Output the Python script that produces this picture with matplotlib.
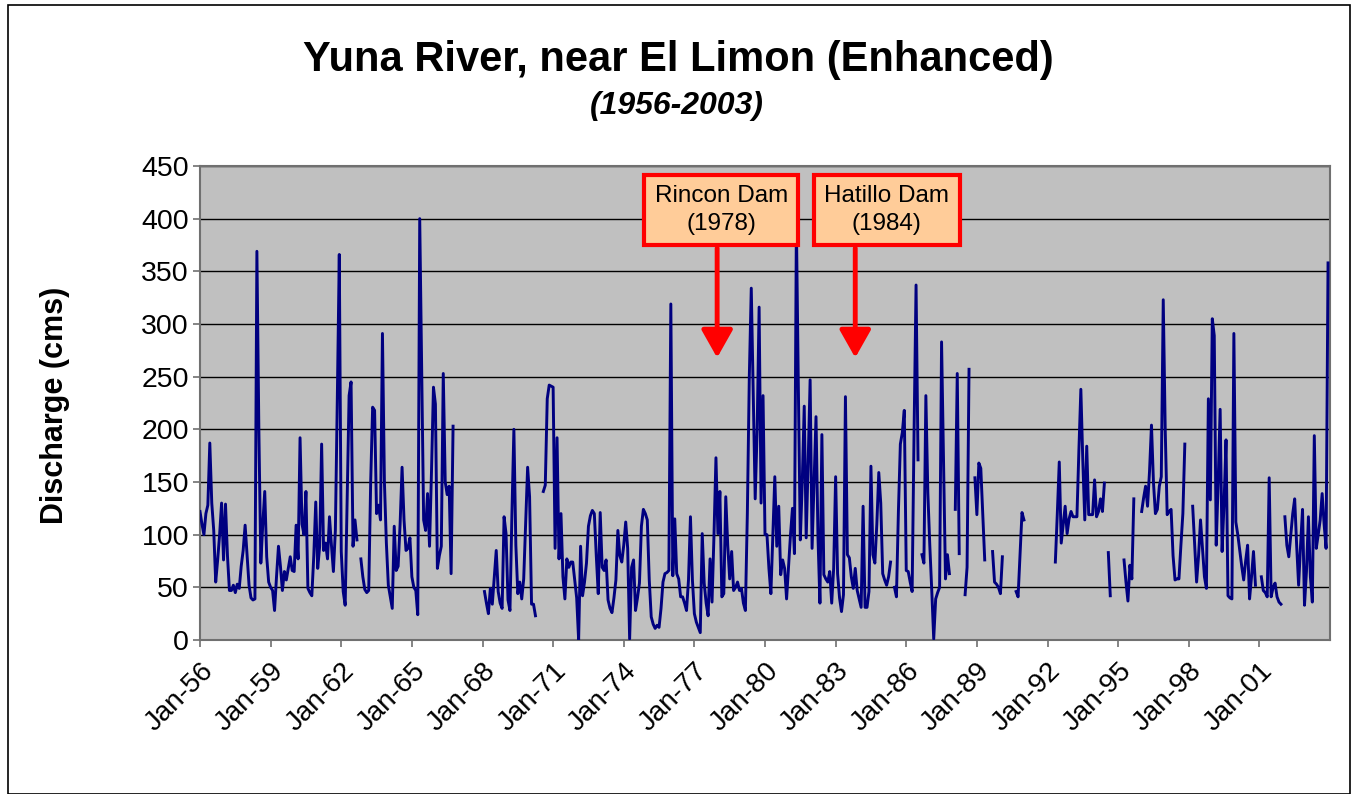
import numpy as np
import matplotlib.pyplot as plt
from matplotlib.patches import Rectangle

plt.rcParams['font.family'] = ['Liberation Sans', 'DejaVu Sans']

nan = np.nan

# monthly mean discharge (cms), Jan..Dec per row, nan = no record
flow_1950s = [
    122, 110, 100, 120, 128, 187, 130, 104, 55, 76, 100, 130,   # 1956
    76, 129, 80, 47, 47, 52, 45, 53, 49, 70, 85, 109,           # 1957
    80, 52, 40, 38, 39, 369, 200, 73, 110, 141, 79, 55,         # 1958
    50, 47, 28, 60, 89, 70, 47, 65, 57, 68, 79, 66,             # 1959
]
flow_1960s = [
    65, 109, 77, 192, 110, 100, 141, 49, 45, 42, 80, 131,       # 1960
    68, 89, 186, 85, 92, 77, 117, 90, 65, 104, 230, 366,        # 1961
    84, 46, 33, 130, 232, 245, 89, 114, 95, nan, 77, 60,        # 1962
    48, 45, 47, 150, 221, 218, 120, 128, 114, 291, 150, 92,     # 1963
    52, 41, 30, 108, 66, 70, 110, 164, 114, 85, 87, 97,         # 1964
    60, 50, 47, 24, 400, 260, 114, 104, 139, 89, 160, 240,      # 1965
    224, 68, 80, 89, 253, 150, 138, 146, 63, 203, nan, nan,     # 1966
    nan, nan, nan, nan, nan, nan, nan, nan, nan, nan, nan, nan, # 1967
    nan, 46, 35, 25, 49, 34, 60, 85, 46, 35, 30, 117,           # 1968
    101, 38, 28, 120, 200, 90, 44, 55, 39, 58, 110, 164,        # 1969
]
flow_1970s = [
    136, 34, 34, 23, nan, nan, nan, 141, 147, 229, 242, 241,    # 1970
    240, 87, 192, 77, 120, 60, 39, 77, 69, 74, 74, 57,          # 1971
    40, 0, 89, 42, 55, 73, 108, 118, 123, 120, 80, 44,          # 1972
    121, 69, 66, 76, 38, 30, 26, 40, 57, 104, 80, 74,           # 1973
    90, 112, 87, 1, 69, 76, 28, 40, 54, 108, 124, 120,          # 1974
    114, 57, 22, 15, 11, 14, 12, 30, 55, 63, 64, 66,            # 1975
    319, 61, 115, 63, 58, 41, 41, 35, 28, 57, 117, 57,          # 1976
    25, 17, 12, 7, 101, 54, 35, 23, 77, 36, 100, 173,           # 1977
    101, 141, 41, 44, 136, 90, 58, 84, 47, 50, 55, 47,          # 1978
    49, 35, 28, 120, 250, 334, 232, 134, 200, 316, 130, 232,    # 1979
]
flow_1980s = [
    100, 100, 68, 44, 100, 155, 89, 127, 62, 76, 68, 39,        # 1980
    70, 100, 125, 82, 395, 240, 95, 150, 222, 97, 169, 247,     # 1981
    87, 150, 212, 98, 35, 195, 62, 58, 55, 65, 35, 68,          # 1982
    155, 63, 40, 27, 43, 231, 81, 78, 60, 49, 68, 47,           # 1983
    39, 31, 127, 31, 31, 46, 165, 81, 73, 110, 159, 130,        # 1984
    63, 57, 52, 60, 74, nan, 50, 41, 122, 186, 197, 218,        # 1985
    66, 65, 55, 46, 200, 337, 171, nan, 81, 73, 232, 140,       # 1986
    90, 47, 1, 39, 45, 50, 283, 170, 58, 81, 63, nan,           # 1987
    nan, 124, 253, 82, nan, nan, 43, 69, 257, nan, nan, 154,    # 1988
    119, 168, 163, 120, 76, nan, nan, nan, 84, 55, 53, 50,      # 1989
]
flow_1990s = [
    44, 79, nan, nan, nan, nan, nan, nan, 46, 41, 80, 121,      # 1990
    114, nan, nan, nan, nan, nan, nan, nan, nan, nan, nan, nan, # 1991
    nan, nan, nan, nan, 74, 120, 169, 92, 110, 127, 101, 115,   # 1992
    122, 117, 117, 117, 180, 238, 170, 114, 184, 119, 119, 119, # 1993
    152, 117, 122, 134, 122, 149, nan, 83, 42, nan, nan, nan,   # 1994
    nan, nan, nan, 76, 55, 37, 71, 58, 134, nan, nan, nan,      # 1995
    122, 135, 146, 127, 160, 204, 150, 120, 124, 146, 155, 323, # 1996
    200, 119, 122, 124, 80, 57, 58, 58, 90, 120, 186, nan,      # 1997
    nan, nan, 127, 90, 55, 80, 114, 87, 60, 49, 229, 133,       # 1998
    305, 289, 90, 150, 219, 84, 130, 190, 42, 40, 39, 291,      # 1999
]
flow_2000s = [
    112, 100, 85, 70, 57, 75, 90, 39, 60, 84, 52, nan,          # 2000
    nan, 60, 47, 45, 41, 154, 41, 50, 54, 41, 36, 34,           # 2001
    nan, 117, 90, 79, 100, 120, 134, 90, 52, 90, 124, 33,       # 2002
    65, 117, 60, 36, 194, 87, 100, 114, 139, 110, 87, 358,      # 2003
]

flow = np.array(flow_1950s + flow_1960s + flow_1970s + flow_1980s
                + flow_1990s + flow_2000s, dtype=float)
months = np.arange(len(flow))   # months since Jan-1956

tick_years = list(range(1956, 2002, 3))
tick_labels = ['Jan-%02d' % (y % 100) for y in tick_years]
tick_months = [(y - 1956) * 12 for y in tick_years]

# dam notes: (label, month index of arrow, box centre month)
dams = [('Rincon Dam\n(1978)', 263.6, 265.7),
        ('Hatillo Dam\n(1984)', 334.0, 350.1)]

W, H = 1357, 794
fig = plt.figure(figsize=(W / 100, H / 100), dpi=100)
fig.patches.append(Rectangle((8 / W, 0), (1350 - 8) / W, (H - 5) / H,
                             transform=fig.transFigure, fill=False,
                             edgecolor='black', lw=1.2))

ax = fig.add_axes([200 / W, 1 - 640 / H, 1130 / W, 474 / H])
ax.set_facecolor('#C0C0C0')
ax.plot(months, flow, color='#000080', lw=2.1, zorder=3)

ax.set_xlim(0, 576)
ax.set_ylim(0, 450)
ax.set_yticks(range(0, 451, 50))
ax.yaxis.grid(True, color='black', lw=1.0)
ax.set_axisbelow(True)
for s in ax.spines.values():
    s.set_color('#707070')
    s.set_linewidth(1.5)

ax.set_xticks(tick_months)
ax.set_xticklabels(tick_labels, rotation=45, ha='right', va='top',
                   rotation_mode='anchor')
ax.tick_params(axis='both', direction='out', length=5,
               color='#707070', width=1.2)
ax.tick_params(axis='y', labelsize=20.5, pad=3)
ax.tick_params(axis='x', labelsize=20, pad=8)

# arrows and boxes
for label, arrow_m, box_m in dams:
    ax.annotate('', xy=(arrow_m, 268), xytext=(arrow_m, 372),
                arrowprops=dict(arrowstyle='-|>,head_length=0.85,head_width=0.48',
                                color='red', lw=3.5, mutation_scale=20,
                                shrinkA=0, shrinkB=0), zorder=5)
    ax.text(box_m, 408, label, ha='center', va='center', fontsize=17.5,
            linespacing=1.35, zorder=6,
            bbox=dict(boxstyle='square,pad=0.42', fc='#FFCC99', ec='red', lw=3))

fig.text(0.5, 1 - 60 / H, 'Yuna River, near El Limon (Enhanced)',
         ha='center', va='center', fontsize=30, fontweight='bold')
fig.text(677 / W, 1 - 106 / H, '(1956-2003)', ha='center', va='center',
         fontsize=23, fontweight='bold', fontstyle='italic')
fig.text(55 / W, 1 - 405 / H, 'Discharge (cms)', ha='center', va='center',
         rotation=90, fontsize=22, fontweight='bold')

fig.savefig('out.png', dpi=100)
